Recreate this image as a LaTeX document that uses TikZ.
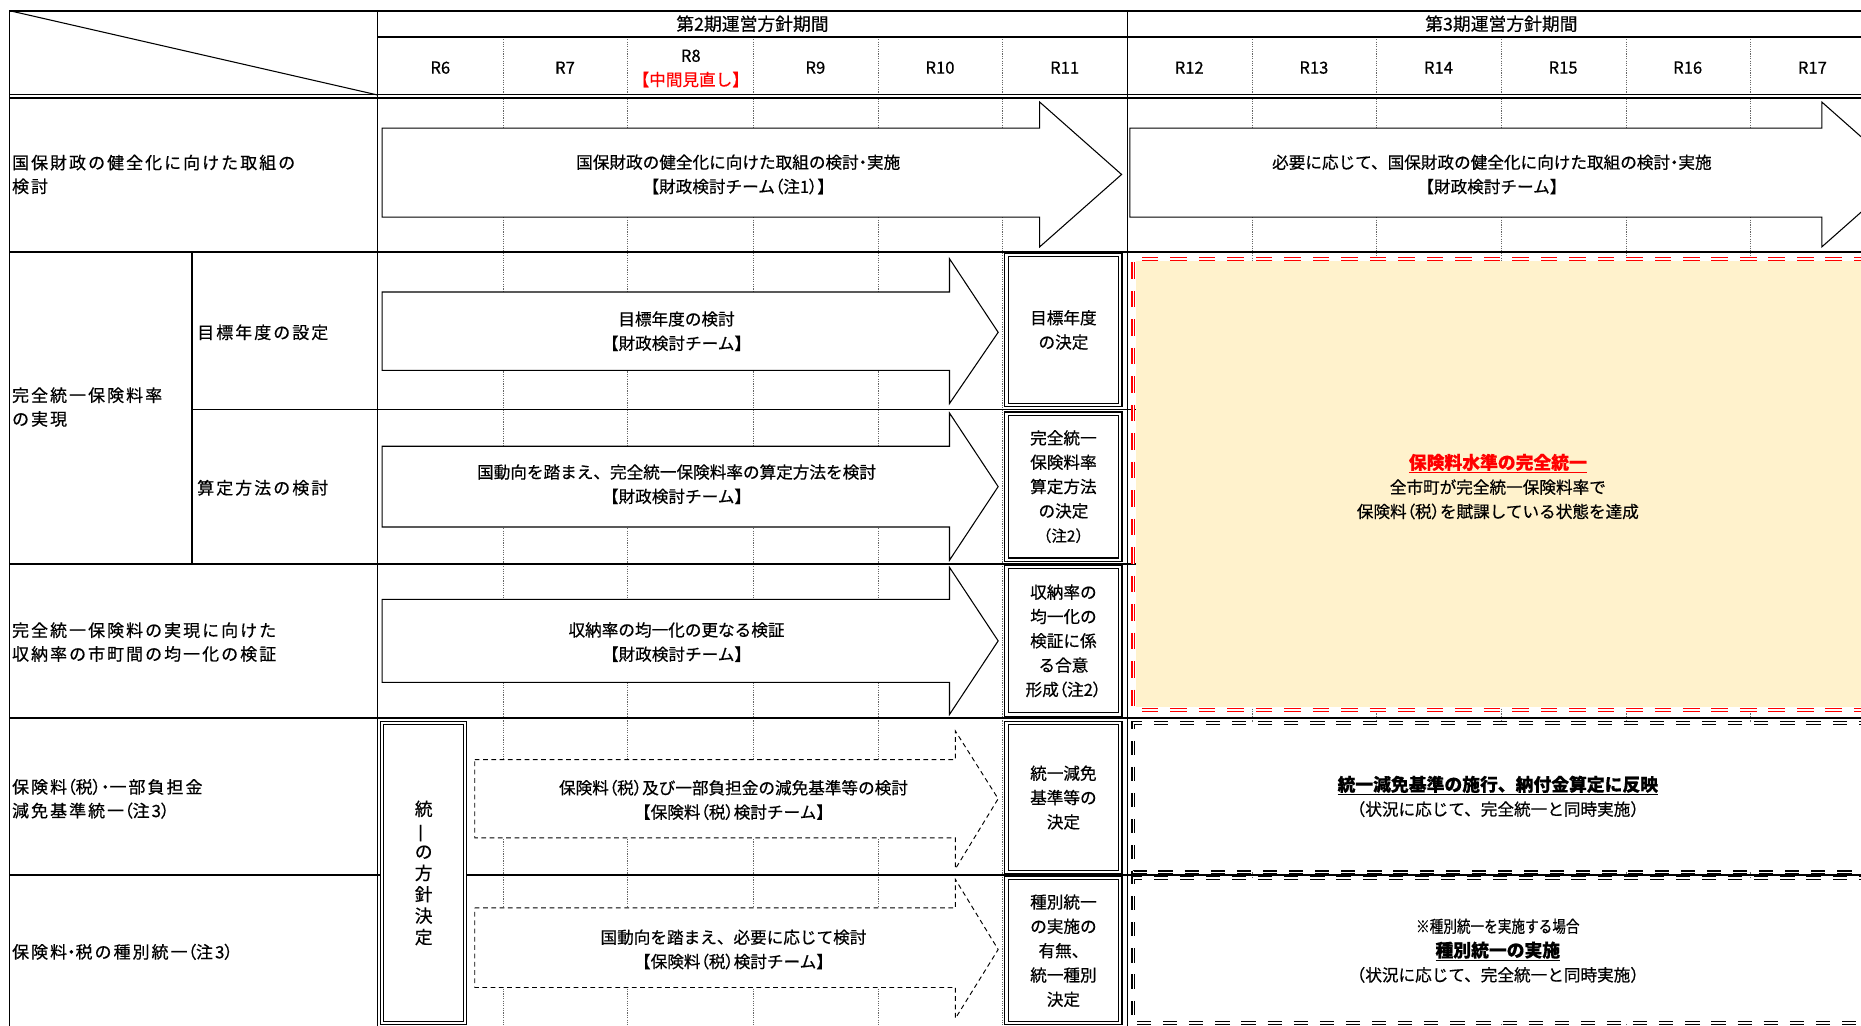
\documentclass[tikz,border=0pt]{standalone}
\usepackage{fontspec}
\usepackage{graphicx}
\setmainfont{Noto Sans CJK JP}[FakeBold=0.5]
\newfontfamily\jpw{Noto Sans CJK JP}[LetterSpace=12,FakeBold=0.5]
\newfontfamily\pal{Noto Sans CJK JP}[RawFeature=+palt,FakeBold=0.5]
\newcommand\LP{{\pal （}}
\newcommand\RP{{\pal ）}}
\newcommand\DT{{\pal ・}}
\definecolor{beige}{RGB}{255,242,204}
\begin{document}
\begin{tikzpicture}[x=1pt,y=-1pt,
  rule/.style={line width=1.5pt,black},
  gridl/.style={line width=0.8pt,black!60,dash pattern=on 1pt off 1pt},
  arr/.style={draw=black,fill=white,line width=0.9pt,line join=miter},
  darr/.style={draw=black,fill=white,line width=0.8pt,dash pattern=on 4pt off 3pt},
  dbl/.style={draw=black,line width=0.9pt,double=white,double distance=1.8pt,fill=white,inner sep=0pt},
  redb/.style={draw=red,line width=1pt,double=white,double distance=1.4pt,dash pattern=on 14pt off 10pt},
  blkb/.style={draw=black,line width=1pt,double=white,double distance=1.4pt,dash pattern=on 12pt off 10pt},
  lbl/.style={font=\fontsize{14}{20.5}\selectfont,align=center,inner sep=0pt},
  hdr/.style={font=\fontsize{15}{18}\selectfont,align=center,inner sep=0pt},
  lft/.style={font=\jpw\fontsize{14.3}{20}\selectfont,align=left,anchor=west,inner sep=0pt},
  bt/.style={font=\bfseries\fontsize{15}{19}\selectfont}]
\useasboundingbox (0,0) rectangle (1568,864);
\clip (0,0) rectangle (1568,864);
\fill[white] (0,0) rectangle (1568,864);
% grid lines
\foreach \x in {424,529,635,740,845,1055,1160,1265,1370,1475}
  \draw[gridl] (\x,31) -- (\x,864);
% table rules
\draw[rule] (8,9) -- (1600,9);
\draw[rule] (318,31) -- (1600,31);
\draw[line width=1.2pt,double=white,double distance=1.6pt] (8,81) -- (1600,81);
\draw[rule] (8,212) -- (1600,212);
\draw[rule] (162,345) -- (1600,345);
\draw[rule] (8,475) -- (1600,475);
\draw[rule] (8,605) -- (1600,605);
\draw[rule] (8,737) -- (1600,737);
\draw[rule] (8,9) -- (8,870);
\draw[rule] (318,9) -- (318,870);
\draw[rule] (950,9) -- (950,870);
\draw[rule] (162,212) -- (162,475);
\draw[line width=0.9pt] (8,9) -- (318,80);
% header texts
\node[hdr] (p2) at (634,20) {第2期運営方針期間};
\node[hdr] (p3) at (1265,20) {第3期運営方針期間};
\node[lbl] (r6) at (371,57) {R6};
\node[lbl] (r7) at (476,57) {R7};
\node[lbl] (r8) at (582,47) {R8};
\node[lbl,text=red] (r8n) at (582,67) {【中間見直し】};
\node[lbl] (r9) at (687,57) {R9};
\node[lbl] (r10) at (792,57) {R10};
\node[lbl] (r11) at (897,57) {R11};
\node[lbl] (r12) at (1002,57) {R12};
\node[lbl] (r13) at (1107,57) {R13};
\node[lbl] (r14) at (1212,57) {R14};
\node[lbl] (r15) at (1317,57) {R15};
\node[lbl] (r16) at (1422,57) {R16};
\node[lbl] (r17) at (1527,57) {R17};
% left column texts
\node[lft] (l1) at (10,147) {国保財政の健全化に向けた取組の\\検討};
\node[lft] (l2) at (10,343) {完全統一保険料率\\の実現};
\node[lft] (l2a) at (166,280) {目標年度の設定};
\node[lft] (l2b) at (166,411) {算定方法の検討};
\node[lft] (l3) at (10,541) {完全統一保険料の実現に向けた\\収納率の市町間の均一化の検証};
\node[lft] (l4) at (10,673) {保険料\LP 税\RP\DT 一部負担金\\減免基準統一\LP 注3\RP};
\node[lft] (l5) at (10,802) {保険料\DT 税の種別統一\LP 注3\RP};
% beige area
\fill[beige] (957,220) rectangle (1600,596);
\draw[redb] (1600,218) -- (955,218) -- (955,598) -- (1600,598);
\draw[blkb,fill=white] (1600,609) -- (955,609) -- (955,735) -- (1600,735);
\draw[blkb,fill=white] (1600,740) -- (955,740) -- (955,862) -- (1600,862);
% arrows
\draw[arr] (322,108) -- (876,108) -- (876,86) -- (945,147) -- (876,208) -- (876,183) -- (322,183) -- cycle;
\draw[arr] (952,108) -- (1535,108) -- (1535,86) -- (1604,147) -- (1535,208) -- (1535,183) -- (952,183) -- cycle;
\draw[arr] (322,246) -- (800,246) -- (800,218) -- (841,280) -- (800,340) -- (800,312) -- (322,312) -- cycle;
\draw[arr] (322,376) -- (800,376) -- (800,348) -- (841,410) -- (800,472) -- (800,444) -- (322,444) -- cycle;
\draw[arr] (322,505) -- (800,505) -- (800,478) -- (841,540) -- (800,602) -- (800,575) -- (322,575) -- cycle;
\draw[darr] (400,640) -- (805,640) -- (805,616) -- (841,673) -- (805,732) -- (805,706) -- (400,706) -- cycle;
\draw[darr] (400,765) -- (805,765) -- (805,741) -- (841,800) -- (805,858) -- (805,832) -- (400,832) -- cycle;
% arrow texts
\node[lbl] (t1) at (622,147) {国保財政の健全化に向けた取組の検討\DT 実施\\【財政検討チーム\LP 注1\RP】};
\node[lbl] (t2) at (1257,147) {必要に応じて、国保財政の健全化に向けた取組の検討\DT 実施\\【財政検討チーム】};
\node[lbl] (t3) at (570,279) {目標年度の検討\\【財政検討チーム】};
\node[lbl] (t4) at (570,408) {国動向を踏まえ、完全統一保険料率の算定方法を検討\\【財政検討チーム】};
\node[lbl] (t5) at (570,541) {収納率の均一化の更なる検証\\【財政検討チーム】};
\node[lbl] (t6) at (618,674) {保険料\LP 税\RP 及び一部負担金の減免基準等の検討\\【保険料\LP 税\RP 検討チーム】};
\node[lbl] (t7) at (618,800) {国動向を踏まえ、必要に応じて検討\\【保険料\LP 税\RP 検討チーム】};
% decision boxes
\node[dbl,lbl,minimum width=96pt,minimum height=126pt] (d1) at (896,278) {目標年度\\の決定};
\node[dbl,lbl,minimum width=96pt,minimum height=123pt] (d2) at (896,410) {完全統一\\保険料率\\算定方法\\の決定\\{\fontsize{13}{18}\selectfont （注2）}};
\node[dbl,lbl,minimum width=96pt,minimum height=124pt] (d3) at (896,540) {収納率の\\均一化の\\検証に係\\る合意\\形成\LP 注2\RP};
\node[dbl,lbl,minimum width=96pt,minimum height=126pt] (d4) at (896,672) {統一減免\\基準等の\\決定};
\node[dbl,lbl,minimum width=96pt,minimum height=122pt] (d5) at (896,801) {種別統一\\の実施の\\有無、\\統一種別\\決定};
\node[dbl,font=\fontsize{15}{18}\selectfont,align=center,minimum width=70pt,minimum height=253pt] (dv) at (357,735.5) {統\\\rotatebox[origin=c]{90}{一}\\の\\方\\針\\決\\定};
% right area texts
\node[lbl] (b1) at (1262,410) {{\bfseries\fontsize{15}{19}\selectfont\color{red}\underline{保険料水準の完全統一}}\\全市町が完全統一保険料率で\\保険料\LP 税\RP を賦課している状態を達成};
\node[lbl] (b2) at (1262,671) {{\bfseries\fontsize{15}{19}\selectfont\underline{統一減免基準の施行、納付金算定に反映}}\\（状況に応じて、完全統一と同時実施）};
\node[lbl] (b3) at (1262,801) {\scalebox{0.82}[1]{※種別統一を実施する場合}\\{\bfseries\fontsize{15}{19}\selectfont\underline{種別統一の実施}}\\（状況に応じて、完全統一と同時実施）};
\end{tikzpicture}
\end{document}
